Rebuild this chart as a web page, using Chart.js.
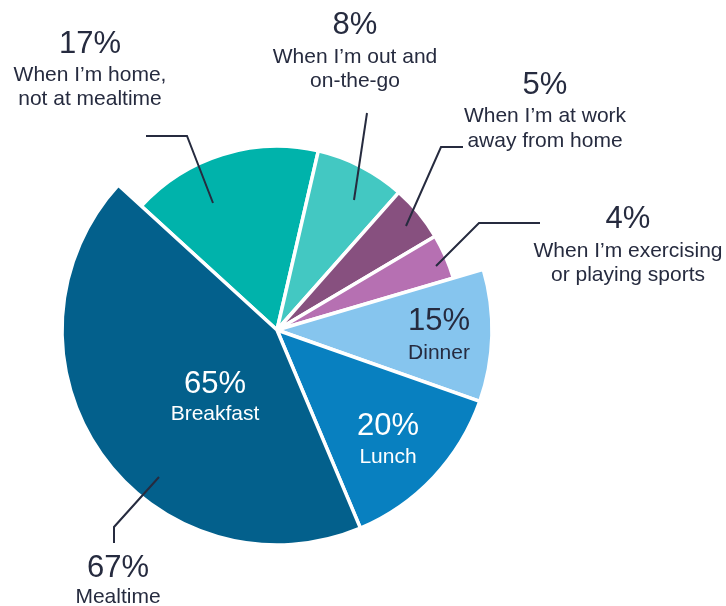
<!DOCTYPE html>
<html>
<head>
<meta charset="utf-8">
<title>Snacking occasions</title>
<script src="https://cdn.jsdelivr.net/npm/chart.js@4.4.1/dist/chart.umd.min.js"></script>
<style>
  html, body { margin: 0; padding: 0; background: #fff; }
  #wrap { width: 726px; height: 606px; }
</style>
</head>
<body>
<div id="wrap"><canvas id="snack-pie" width="726" height="606"></canvas></div>
<script>
// occasions outside of meals (share of respondents, %)
const CONTEXT_NAMES = [
  ["When I’m home,", "not at mealtime"],
  ["When I’m out and", "on-the-go"],
  ["When I’m at work", "away from home"],
  ["When I’m exercising", "or playing sports"]
];
const CONTEXT_SHARE = [17, 8, 5, 4];

// mealtime and its split by meal (%)
const MEALTIME_NAME = "Mealtime";
const MEALTIME_SHARE = 67;
const MEAL_NAMES = ["Dinner", "Lunch", "Breakfast"];
const MEAL_SHARE = [15, 20, 65];

const CONTEXT_COLORS = ["#00b3ab", "#43c8c2", "#87507f", "#b670b2"];
const MEAL_COLORS = ["#86c5ee", "#0880c0", "#03608c"];
const TEXT_DARK = "#262b3f";
const FONT = "'Liberation Sans', Arial, sans-serif";
const OTHER_RADIUS_RATIO = 0.855;

// meal slices are sized as their part of the mealtime share
const pieValues = CONTEXT_SHARE.concat(MEAL_SHARE.map(v => MEALTIME_SHARE * v / 100));

// callout layout: percent baseline, label baselines, leader line
const CALLOUTS = [
  { text: CONTEXT_SHARE[0] + "%", lines: CONTEXT_NAMES[0], x: 90, y: 53, ly: [81, 105], color: TEXT_DARK,
    leader: [[146, 136], [187, 136], [213, 203]] },
  { text: CONTEXT_SHARE[1] + "%", lines: CONTEXT_NAMES[1], x: 355, y: 34, ly: [63, 87], color: TEXT_DARK,
    leader: [[367, 113], [354, 200]] },
  { text: CONTEXT_SHARE[2] + "%", lines: CONTEXT_NAMES[2], x: 545, y: 94, ly: [122, 147], color: TEXT_DARK,
    leader: [[463, 147], [441, 147], [406, 226]] },
  { text: CONTEXT_SHARE[3] + "%", lines: CONTEXT_NAMES[3], x: 628, y: 228, ly: [257, 281], color: TEXT_DARK,
    leader: [[540, 223], [479, 223], [436, 266]] },
  { text: MEAL_SHARE[0] + "%", lines: [MEAL_NAMES[0]], x: 439, y: 330, ly: [359], color: TEXT_DARK },
  { text: MEAL_SHARE[1] + "%", lines: [MEAL_NAMES[1]], x: 388, y: 435, ly: [463], color: "#ffffff" },
  { text: MEAL_SHARE[2] + "%", lines: [MEAL_NAMES[2]], x: 215, y: 393, ly: [420], color: "#ffffff" },
  { text: MEALTIME_SHARE + "%", lines: [MEALTIME_NAME], x: 118, y: 577, ly: [603], color: TEXT_DARK,
    leader: [[159, 477], [114, 527], [114, 543]] }
];

// the non-meal slices sit on a smaller radius than the meal slices
const shrinkOtherSlices = {
  id: 'shrinkOtherSlices',
  beforeDatasetsDraw(chart) {
    const meta = chart.getDatasetMeta(0);
    const full = meta.controller.outerRadius;
    meta.data.forEach((arc, i) => {
      arc.outerRadius = i < CONTEXT_SHARE.length ? full * OTHER_RADIUS_RATIO : full;
    });
  }
};

const calloutLabels = {
  id: 'calloutLabels',
  afterDraw(chart) {
    const ctx = chart.ctx;
    ctx.save();
    ctx.textAlign = 'center';
    ctx.textBaseline = 'alphabetic';
    CALLOUTS.forEach(c => {
      if (c.leader) {
        ctx.beginPath();
        ctx.strokeStyle = TEXT_DARK;
        ctx.lineWidth = 2;
        ctx.lineJoin = 'miter';
        c.leader.forEach((p, i) => i ? ctx.lineTo(p[0], p[1]) : ctx.moveTo(p[0], p[1]));
        ctx.stroke();
      }
      ctx.fillStyle = c.color;
      ctx.font = "31px " + FONT;
      ctx.fillText(c.text, c.x, c.y);
      ctx.font = "21px " + FONT;
      c.lines.forEach((line, i) => ctx.fillText(line, c.x, c.ly[i]));
    });
    ctx.restore();
  }
};

const snackPie = new Chart(document.getElementById('snack-pie'), {
  type: 'pie',
  data: {
    labels: CONTEXT_NAMES.map(n => n.join(' ')).concat(MEAL_NAMES),
    datasets: [{
      data: pieValues,
      backgroundColor: CONTEXT_COLORS.concat(MEAL_COLORS),
      borderColor: '#ffffff',
      borderWidth: 3.5
    }]
  },
  options: {
    responsive: false,
    animation: false,
    devicePixelRatio: 1,
    rotation: -47.6,
    radius: 215,
    layout: {
      padding: { left: 0, right: 172, top: 100, bottom: 46 }
    },
    plugins: {
      legend: { display: false },
      tooltip: { enabled: false }
    }
  },
  plugins: [shrinkOtherSlices, calloutLabels]
});
</script>
</body>
</html>
